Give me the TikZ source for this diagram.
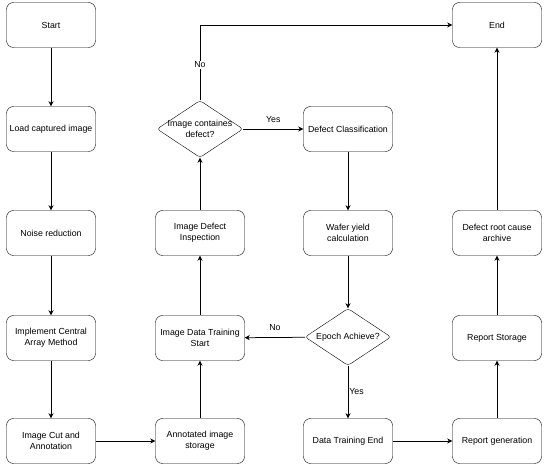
\documentclass[tikz,border=0pt]{standalone}
\usepackage{fontspec}
\setmainfont{Liberation Sans}
\usetikzlibrary{shapes.geometric,arrows.meta}
\begin{document}
\begin{tikzpicture}[x=1pt, y=-1pt,
        every node/.style={font=\fontsize{8.8}{11}\selectfont},
        procbox/.style={draw, rounded corners=7pt, minimum width=89pt,
            minimum height=45pt, inner sep=2pt, align=center},
        decision/.style={draw, diamond, rounded corners=3pt, aspect=1.5,
            minimum width=86pt, minimum height=57pt, inner sep=0pt},
        flow/.style={draw, line width=0.75pt, -{Stealth[length=5pt,width=5pt,inset=1.5pt]}},
        answer/.style={fill=white, inner sep=1pt}]
                \useasboundingbox (0,0) rectangle (550,473);

                \node[procbox] (start)  at (51,25)  {Start};
                \node[procbox] (load)   at (51,129) {Load captured image};
                \node[procbox] (noise)  at (51,233) {Noise reduction};
                \node[procbox] (cam)    at (51,338) {Implement Central\\Array Method};
                \node[procbox] (cut)    at (51,441) {Image Cut and\\Annotation};

                \node[procbox] (annot)   at (200,441) {Annotated image\\storage};
                \node[procbox] (trstart) at (200,338) {Image Data Training\\Start};
                \node[procbox] (inspect) at (200,233) {Image Defect\\Inspection};
                \node[decision, label={[align=center]center:Image containes\\defect?}]
                    (hasdef) at (200,129) {};

                \node[procbox] (classif) at (348,129) {Defect Classification};
                \node[procbox] (wafer)   at (348,233) {Wafer yield\\calculation};
                \node[decision, label={center:Epoch Achieve?}]
                    (epoch) at (348,337) {};
                \node[procbox] (trend)   at (348,441) {Data Training End};

                \node[procbox] (repgen)  at (497,441) {Report generation};
                \node[procbox] (repsto)  at (497,338) {Report Storage};
                \node[procbox] (archive) at (497,233) {Defect root cause\\archive};
                \node[procbox] (end)     at (497,25)  {End};

                \draw[flow] (start) -- (load);
                \draw[flow] (load) -- (noise);
                \draw[flow] (noise) -- (cam);
                \draw[flow] (cam) -- (cut);
                \draw[flow] (cut) -- (annot);
                \draw[flow] (annot) -- (trstart);
                \draw[flow] (trstart) -- (inspect);
                \draw[flow] (inspect) -- (hasdef);
                \draw[flow] (hasdef.north) |- (end.west)
                    node[answer, pos=0.235] {No};
                \draw[flow] (hasdef) -- (classif)
                    node[midway, above=3pt] {Yes};
                \draw[flow] (classif) -- (wafer);
                \draw[flow] (wafer) -- (epoch);
                \draw[flow] (epoch) -- (trstart)
                    node[midway, above=3pt] {No};
                \draw[flow] (epoch) -- (trend)
                    node[midway, right=0pt, inner sep=1pt] {Yes};
                \draw[flow] (trend) -- (repgen);
                \draw[flow] (repgen) -- (repsto);
                \draw[flow] (repsto) -- (archive);
                \draw[flow] (archive) -- (end);
\end{tikzpicture}
\end{document}
